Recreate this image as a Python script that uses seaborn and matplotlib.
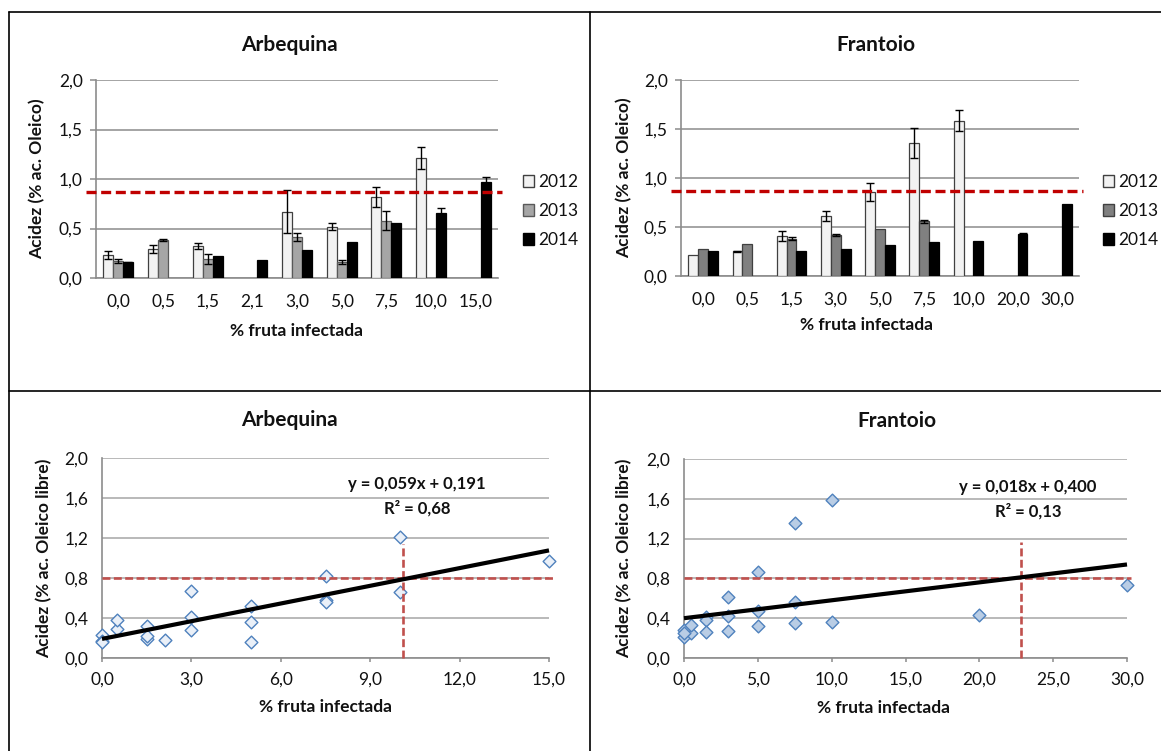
import numpy as np
import pandas as pd
import matplotlib
matplotlib.use("Agg")
import matplotlib.pyplot as plt
import seaborn as sns
from matplotlib.patches import Patch
from matplotlib.lines import Line2D
from matplotlib.ticker import FuncFormatter, MultipleLocator

# ---------------- data ----------------
years = ["2012", "2013", "2014"]

arb_cats = [0.0, 0.5, 1.5, 2.1, 3.0, 5.0, 7.5, 10.0, 15.0]
arb_2012 = [0.23, 0.29, 0.32, np.nan, 0.67, 0.52, 0.82, 1.21, np.nan]
arb_2013 = [0.17, 0.38, 0.19, np.nan, 0.41, 0.16, 0.58, np.nan, np.nan]
arb_2014 = [0.16, np.nan, 0.22, 0.18, 0.28, 0.36, 0.56, 0.66, 0.97]
arb_err_2012 = [0.04, 0.04, 0.03, 0, 0.22, 0.04, 0.10, 0.11, 0]
arb_err_2013 = [0.02, 0.01, 0.05, 0, 0.04, 0.02, 0.10, 0, 0]
arb_err_2014 = [0.005, 0, 0, 0, 0, 0, 0, 0.05, 0.05]

fra_cats = [0.0, 0.5, 1.5, 3.0, 5.0, 7.5, 10.0, 20.0, 30.0]
fra_2012 = [0.21, 0.25, 0.41, 0.61, 0.86, 1.355, 1.585, np.nan, np.nan]
fra_2013 = [0.28, 0.33, 0.38, 0.42, 0.475, 0.56, np.nan, np.nan, np.nan]
fra_2014 = [0.25, np.nan, 0.26, 0.275, 0.32, 0.35, 0.36, 0.43, 0.73]
fra_err_2012 = [0, 0.01, 0.05, 0.05, 0.09, 0.155, 0.11, 0, 0]
fra_err_2013 = [0, 0, 0.015, 0.01, 0, 0.015, 0, 0, 0]
fra_err_2014 = [0, 0, 0, 0, 0, 0, 0, 0.01, 0]

bar_limit = 0.87
scatter_limit = 0.8

arb_fit = (0.059, 0.191)      # slope, intercept
fra_fit = (0.018, 0.400)
arb_cross = (10.1, 1.14)      # x of vertical marker, its top
fra_cross = (22.8, 1.17)

# ---------------- style ----------------
sns.set_theme(style="white")
plt.rcParams["font.family"] = ["Lato", "DejaVu Sans"]
TXT = "#111111"
GRID = "#8c8c8c"
TICK_FS = 12.5
LAB_FS = 12.5
TITLE_FS = 15
LEG_FS = 12.5
EQ_FS = 12

W, H = 1161, 751
fig = plt.figure(figsize=(W / 100, H / 100), dpi=100)
fig.patch.set_facecolor("white")


def px_axes(l, t, r, b):
    return fig.add_axes([l / W, 1 - b / H, (r - l) / W, (b - t) / H])


comma = FuncFormatter(lambda v, p: f"{v:.1f}".replace(".", ","))


def style_common(ax):
    for s in ["top", "right"]:
        ax.spines[s].set_visible(False)
    for s in ["left", "bottom"]:
        ax.spines[s].set_color(GRID)
        ax.spines[s].set_linewidth(1.2)
    ax.set_facecolor("white")


def bar_panel(ax, cats, vals, errs, faces, edges, title, title_x, xl_pos, yl_x, leg_xy):
    labels = [f"{c:.1f}".replace(".", ",") for c in cats]
    rows = []
    for yr, v in zip(years, vals):
        for lab, val in zip(labels, v):
            if not np.isnan(val):
                rows.append({"cat": lab, "year": yr, "val": val})
    df = pd.DataFrame(rows)
    width = 0.67
    sns.barplot(data=df, x="cat", y="val", hue="year", order=labels,
                hue_order=years, palette=dict(zip(years, faces)),
                width=width, errorbar=None, legend=False, ax=ax,
                saturation=1, linewidth=0.9, zorder=3)
    for cont, ec in zip(ax.containers, edges):
        for p in cont:
            p.set_edgecolor(ec)
    n = len(years)
    for j, (v, e) in enumerate(zip(vals, errs)):
        off = -width / 2 + width / n * (j + 0.5)
        for i, (val, er) in enumerate(zip(v, e)):
            if not np.isnan(val) and er > 0:
                ax.errorbar(i + off, val, yerr=er, fmt="none", ecolor="black",
                            elinewidth=1.0, capsize=2.6, capthick=1.0, zorder=5)
    ax.axhline(bar_limit, xmin=-0.025, xmax=1.01, clip_on=False,
               color="#c00000", lw=2.4, dashes=(3.0, 1.4), zorder=6)
    style_common(ax)
    ax.set_ylim(0, 2.0)
    ax.set_xlim(-0.5, len(cats) - 0.5)
    ax.yaxis.set_major_locator(MultipleLocator(0.5))
    ax.yaxis.set_major_formatter(comma)
    ax.yaxis.grid(True, color=GRID, lw=1.1)
    ax.xaxis.grid(False)
    ax.set_axisbelow(True)
    ax.tick_params(axis="y", length=4.5, width=1.1, color=GRID, pad=5,
                   labelsize=TICK_FS, labelcolor=TXT, left=True)
    ax.tick_params(axis="x", length=0, pad=11, labelsize=TICK_FS, labelcolor=TXT)
    ax.set_xlabel("% fruta infectada", fontsize=LAB_FS, fontweight="bold", color=TXT)
    ax.xaxis.set_label_coords(*xl_pos)
    ax.set_ylabel("Acidez (% ac. Oleico)", fontsize=LAB_FS, fontweight="bold", color=TXT)
    ax.yaxis.set_label_coords(yl_x, 0.5)
    ax.text(title_x, 1.178, title, transform=ax.transAxes, ha="center",
            va="center", fontsize=TITLE_FS, fontweight="bold", color=TXT)
    handles = [Patch(facecolor=f, edgecolor=e, linewidth=1.0) for f, e in zip(faces, edges)]
    fig.legend(handles, years, loc="upper left",
               bbox_to_anchor=(leg_xy[0] / W, 1 - leg_xy[1] / H),
               frameon=False, fontsize=LEG_FS, handlelength=0.65, handleheight=0.65,
               handletextpad=0.25, labelspacing=0.75, borderpad=0, borderaxespad=0,
               labelcolor=TXT)


def scatter_panel(ax, cats, vals, fit, cross, xmax, xstep, face, title,
                  title_x, xl_pos, yl_x, eq_xy):
    xs, ys = [], []
    for v in vals:
        for c, val in zip(cats, v):
            if not np.isnan(val):
                xs.append(c)
                ys.append(val)
    style_common(ax)
    ax.set_xlim(0, xmax)
    ax.set_ylim(0, 2.0)
    ax.xaxis.set_major_locator(MultipleLocator(xstep))
    ax.yaxis.set_major_locator(MultipleLocator(0.4))
    ax.xaxis.set_major_formatter(comma)
    ax.yaxis.set_major_formatter(comma)
    ax.yaxis.grid(True, color="#a6a6a6", lw=1.1)
    ax.xaxis.grid(False)
    ax.set_axisbelow(True)
    sns.scatterplot(x=xs, y=ys, marker="D", s=42, color=face,
                    edgecolor="#4f81bd", linewidth=1.0, ax=ax,
                    clip_on=False, zorder=3, legend=False)
    a, b = fit
    xl = np.array([0, xmax])
    ax.plot(xl, a * xl + b, color="black", lw=3.0, zorder=4,
            solid_capstyle="butt", clip_on=False)
    ax.plot([0, xmax * 1.008], [scatter_limit, scatter_limit], color="#c0504d",
            lw=1.9, dashes=(3.0, 1.3), zorder=3.5, clip_on=False)
    ax.plot([cross[0], cross[0]], [0, cross[1]], color="#c0504d",
            lw=1.9, dashes=(3.0, 1.3), zorder=3.5, clip_on=False)
    ax.tick_params(axis="x", length=3, width=1.1, color=GRID, pad=7,
                   labelsize=TICK_FS, labelcolor=TXT, bottom=True)
    ax.tick_params(axis="y", length=0, pad=10, labelsize=TICK_FS, labelcolor=TXT)
    ax.set_xlabel("% fruta infectada", fontsize=LAB_FS, fontweight="bold", color=TXT)
    ax.xaxis.set_label_coords(*xl_pos)
    ax.set_ylabel("Acidez (% ac. Oleico libre)", fontsize=LAB_FS, fontweight="bold", color=TXT)
    ax.yaxis.set_label_coords(yl_x, 0.5)
    ax.text(title_x, 1.19, title, transform=ax.transAxes, ha="center",
            va="center", fontsize=TITLE_FS, fontweight="bold", color=TXT)
    ex, ey = eq_xy
    eq = f"y = {a:.3f}x + {b:.3f}".replace(".", ",")
    fig.text(ex / W, 1 - ey / H, eq, ha="center", va="center",
             fontsize=EQ_FS, fontweight="bold", color=TXT)


# ---------------- panels ----------------
ax1 = px_axes(96, 80, 498, 278)
bar_panel(ax1, arb_cats, [arb_2012, arb_2013, arb_2014],
          [arb_err_2012, arb_err_2013, arb_err_2014],
          ["#f2f2f2", "#a6a6a6", "#000000"], ["#404040", "#595959", "#000000"],
          "Arbequina", 0.48, (0.5, -0.225), -0.127, (523, 174))

ax2 = px_axes(681, 80, 1079, 276)
bar_panel(ax2, fra_cats, [fra_2012, fra_2013, fra_2014],
          [fra_err_2012, fra_err_2013, fra_err_2014],
          ["#f2f2f2", "#808080", "#000000"], ["#404040", "#404040", "#000000"],
          "Frantoio", 0.49, (0.465, -0.21), -0.123, (1103, 174))

ax3 = px_axes(102, 458, 549, 658)
scatter_panel(ax3, arb_cats, [arb_2012, arb_2013, arb_2014], arb_fit, arb_cross,
              15, 3, "#eaf0f8", "Arbequina", 0.42, (0.5, -0.205), -0.11, (417, 484))
fig.text(417 / W, 1 - 508 / H, "R² = 0,68", ha="center", va="center",
         fontsize=EQ_FS, fontweight="bold", color=TXT)

ax4 = px_axes(684, 459, 1127, 658)
scatter_panel(ax4, fra_cats, [fra_2012, fra_2013, fra_2014], fra_fit, fra_cross,
              30, 5, "#b9cde5", "Frantoio", 0.48, (0.45, -0.21), -0.117, (1028, 487))
fig.text(1028 / W, 1 - 511 / H, "R² = 0,13", ha="center", va="center",
         fontsize=EQ_FS, fontweight="bold", color=TXT)

# ---------------- table borders ----------------
def fline(x0, y0, x1, y1):
    fig.add_artist(Line2D([x0 / W, x1 / W], [1 - y0 / H, 1 - y1 / H],
                          transform=fig.transFigure, color="black", lw=1.2))

fline(9, 12, W, 12)
fline(9, 12, 9, H)
fline(9, 391, W, 391)
fline(590, 12, 590, H)

fig.savefig("out.png", dpi=100, facecolor="white")
